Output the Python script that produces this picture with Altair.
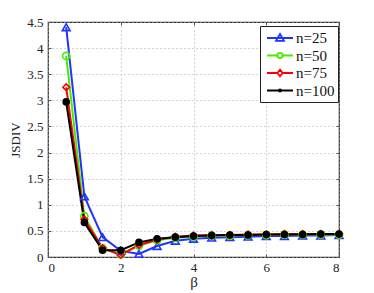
import altair as alt
import pandas as pd

beta = [0.5, 1, 1.5, 2, 2.5, 3, 3.5, 4, 4.5, 5, 5.5, 6, 6.5, 7, 7.5, 8]
n25 = [4.40, 1.16, 0.38, 0.12, 0.06, 0.21, 0.31, 0.35, 0.37, 0.38, 0.39, 0.40, 0.40, 0.41, 0.41, 0.42]
n50 = [3.85, 0.78, 0.17, 0.05, 0.22, 0.32, 0.37, 0.39, 0.41, 0.41, 0.42, 0.42, 0.43, 0.43, 0.43, 0.43]
n75 = [3.25, 0.72, 0.17, 0.04, 0.23, 0.33, 0.39, 0.41, 0.42, 0.42, 0.43, 0.43, 0.44, 0.44, 0.44, 0.44]
n100 = [2.97, 0.66, 0.13, 0.13, 0.28, 0.35, 0.38, 0.40, 0.41, 0.42, 0.42, 0.43, 0.43, 0.43, 0.44, 0.44]
series = ["n=25", "n=50", "n=75", "n=100"]
colors = ["#2233ff", "#44ee00", "#ff0000", "#000000"]
fills = ["transparent", "transparent", "transparent", "#000000"]
x_ticks = [0, 2, 4, 6, 8]
y_ticks = [0, 0.5, 1, 1.5, 2, 2.5, 3, 3.5, 4, 4.5]

rows = []
for name, vals in zip(series, [n25, n50, n75, n100]):
    for b, v in zip(beta, vals):
        rows.append({"beta": b, "jsdiv": v, "n": name})
df = pd.DataFrame(rows)

font = "Liberation Serif"
xs = alt.Scale(domain=[0, 8], nice=False)
ys = alt.Scale(domain=[0, 4.5], nice=False)

x_main = alt.X("beta:Q", scale=xs,
               axis=alt.Axis(values=x_ticks, title="β", titleFontSize=15,
                             titleFontWeight="normal", titlePadding=0, labelPadding=4,
                             offset=-3, tickSize=3, ticks=True, domain=False, grid=True))
y_main = alt.Y("jsdiv:Q", scale=ys,
               axis=alt.Axis(values=y_ticks, format="~g",
                             title="JSDIV", titleFontSize=13, titleFontWeight="normal",
                             titlePadding=4, labelPadding=5,
                             offset=-3, tickSize=3, ticks=True, domain=False, grid=True))
x_top = alt.X("beta:Q", scale=xs,
              axis=alt.Axis(values=x_ticks, orient="top", offset=-3, tickSize=3, ticks=True,
                            labels=False, domain=False, grid=False, title=None))
y_right = alt.Y("jsdiv:Q", scale=ys,
                axis=alt.Axis(values=y_ticks, orient="right", offset=-3, tickSize=3, ticks=True,
                              labels=False, domain=False, grid=False, title=None))

color = alt.Color("n:N", scale=alt.Scale(domain=series, range=colors), legend=None)
fill = alt.Fill("n:N", scale=alt.Scale(domain=series, range=fills), legend=None)

lines = alt.Chart(df).mark_line(strokeWidth=2).encode(x=x_main, y=y_main, color=color)
points = alt.Chart(df).mark_point(strokeWidth=1.6, opacity=1).encode(
    x=x_top, y=y_right, color=color, fill=fill,
    size=alt.Size("n:N", scale=alt.Scale(domain=series, range=[60, 36, 50, 28]), legend=None),
    shape=alt.Shape("n:N", scale=alt.Scale(domain=series,
                    range=["triangle-up", "circle", "diamond", "circle"]), legend=None))

leg_paths = [
    "M-1.625,0H1.625M0,-0.5L0.5,0.35L-0.5,0.35Z",
    "M-1.625,0H-0.32M0.32,0H1.625M0.32,0A0.32,0.32 0 1,1 -0.32,0A0.32,0.32 0 1,1 0.32,0Z",
    "M-1.625,0H-0.32M0.32,0H1.625M0,-0.42L0.32,0L0,0.42L-0.32,0Z",
    "M-1.625,0H1.625M0.14,0A0.14,0.14 0 1,1 -0.14,0A0.14,0.14 0 1,1 0.14,0Z",
]
leg = alt.Legend(title=None, orient="none", legendX=212, legendY=4,
                 labelFont=font, labelFontSize=15, labelColor="#111",
                 symbolSize=256, symbolStrokeWidth=1.8, symbolOpacity=1,
                 symbolFillColor="transparent",
                 symbolOffset=8, labelOffset=7, rowPadding=0.5, padding=3,
                 strokeColor="#222", fillColor="white")
legend_layer = alt.Chart(df).mark_point(size=256, strokeWidth=2, opacity=0, filled=False).encode(
    x=alt.X("beta:Q", scale=xs, axis=None),
    y=alt.Y("jsdiv:Q", scale=ys, axis=None),
    color=alt.Color("n:N", scale=alt.Scale(domain=series, range=colors), legend=leg),
    shape=alt.Shape("n:N", scale=alt.Scale(domain=series, range=leg_paths), legend=leg),
)

chart = alt.layer(lines, points, legend_layer).resolve_scale(
    shape="independent", color="independent", fill="independent", size="independent"
).resolve_axis(x="independent", y="independent").properties(
    width=291, height=235,
    autosize=alt.AutoSizeParams(type="none"),
    padding={"left": 40, "top": 14, "right": 27, "bottom": 40},
).configure(font=font).configure_axis(
    labelFont=font, titleFont=font, labelFontSize=13, labelColor="#222",
    titleColor="#222", gridDash=[1, 3], gridColor="#aaa",
    tickColor="#555", tickWidth=1,
).configure_view(stroke="#333", strokeWidth=1.2)

chart.save("out.html", embed_options={"renderer": "svg", "actions": False})
